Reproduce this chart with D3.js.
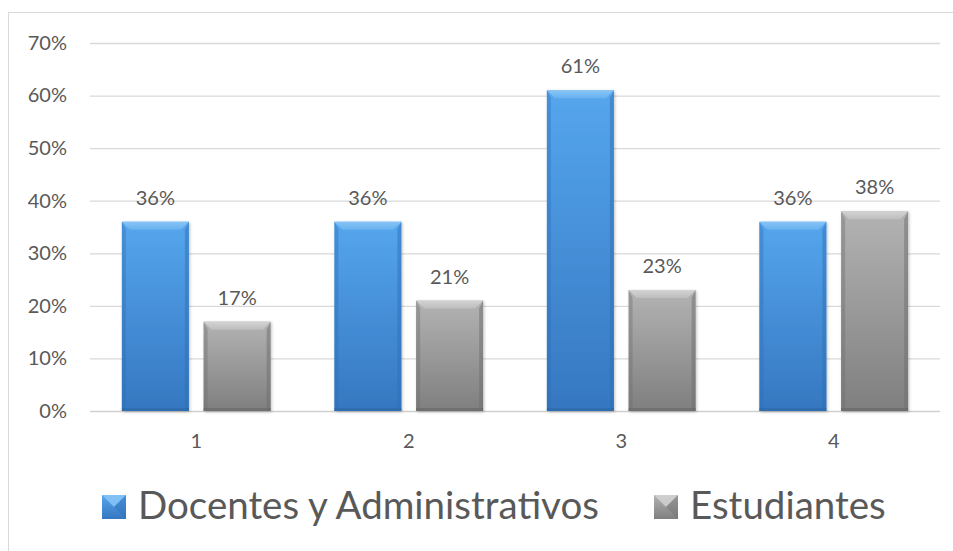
<!DOCTYPE html>
<html>
  <head>
    <meta charset="utf-8">
    <style>
    body { margin: 0px; overflow: hidden; background: #fff; }
    text { font-family: Lato, "Open Sans", sans-serif; fill: #595959; }
    </style>
    <script src="https://d3js.org/d3.v7.min.js"></script>
  </head>
  <body>
    <svg width="953" height="551"></svg>
    <script>
        // data
        const categories = ['1', '2', '3', '4'];
        const seriesNames = ['Docentes y Administrativos', 'Estudiantes'];
        const docentes = [36, 36, 61, 36];
        const estudiantes = [17, 21, 23, 38];
        const yTicks = [0, 10, 20, 30, 40, 50, 60, 70];

        const data = categories.map((c, i) => ({cat: c, values: [docentes[i], estudiantes[i]]}));

        const svg = d3.select('svg');

        // chart frame
        svg.append('rect')
            .attr('x', 8.5).attr('y', 12.5)
            .attr('width', 960).attr('height', 560)
            .attr('fill', 'white').attr('stroke', '#d9d9d9');

        const x0 = 90, x1 = 940, yTop = 43, yBot = 411;

        const xScale = d3.scaleBand()
            .domain(categories)
            .range([x0, x1])
            .paddingInner(0.3)
            .paddingOuter(0.15);

        const xSub = d3.scaleBand()
            .domain([0, 1])
            .range([0, xScale.bandwidth()])
            .paddingInner(0.18);

        const yScale = d3.scaleLinear()
            .domain([0, 70])
            .range([yBot, yTop]);

        // gradients
        const defs = svg.append('defs');
        const palettes = [
            {id: 'blue', top: '#55a6ee', bot: '#3577c0', bevel: '#8cc8f7', side: '#2f6fb5', bottomEdge: '#2a62a0'},
            {id: 'gray', top: '#b3b3b3', bot: '#7f7f7f', bevel: '#d6d6d6', side: '#6e6e6e', bottomEdge: '#5f5f5f'}
        ];
        palettes.forEach(p => {
            const g = defs.append('linearGradient').attr('id', 'grad-' + p.id)
                .attr('x1', 0).attr('y1', 0).attr('x2', 0).attr('y2', 1);
            g.append('stop').attr('offset', '0%').attr('stop-color', p.top);
            g.append('stop').attr('offset', '100%').attr('stop-color', p.bot);
            const b = defs.append('linearGradient').attr('id', 'bev-' + p.id)
                .attr('x1', 0).attr('y1', 0).attr('x2', 0).attr('y2', 1);
            b.append('stop').attr('offset', '0%').attr('stop-color', p.bevel).attr('stop-opacity', 0.9);
            b.append('stop').attr('offset', '100%').attr('stop-color', p.bevel).attr('stop-opacity', 0.35);
        });
        const shadow = defs.append('filter').attr('id', 'shadow')
            .attr('x', '-20%').attr('y', '-20%').attr('width', '140%').attr('height', '140%');
        shadow.append('feDropShadow').attr('dx', 1).attr('dy', 1).attr('stdDeviation', 1.5)
            .attr('flood-color', '#000').attr('flood-opacity', 0.25);

        // y axis gridlines + labels
        const yAxis = d3.axisLeft(yScale)
            .tickValues(yTicks)
            .tickSize(-(x1 - x0))
            .tickFormat(d => d + '%')
            .tickPadding(23);
        const yAxisG = svg.append('g')
            .attr('transform', `translate(${x0},0)`)
            .call(yAxis);
        yAxisG.select('.domain').remove();
        yAxisG.selectAll('.tick line').attr('stroke', '#d9d9d9').attr('stroke-width', 1.3);
        yAxisG.selectAll('.tick text')
            .style('font-family', 'Lato, sans-serif')
            .attr('font-size', 20).attr('fill', '#595959');
        yAxisG.select('.tick:first-of-type line').attr('stroke', '#d0d0d0').attr('stroke-width', 1.5);

        // x axis labels
        const xAxis = d3.axisBottom(xScale).tickSize(0).tickPadding(23);
        const xAxisG = svg.append('g')
            .attr('transform', `translate(0,${yBot})`)
            .call(xAxis);
        xAxisG.select('.domain').remove();
        xAxisG.selectAll('.tick text')
            .style('font-family', 'Lato, sans-serif')
            .attr('font-size', 20).attr('fill', '#595959');

        // bars
        const bev = 8;
        const groups = svg.selectAll('g.cat').data(data)
            .enter().append('g').attr('class', 'cat')
            .attr('transform', d => `translate(${xScale(d.cat)},0)`);

        const bars = groups.selectAll('g.bar')
            .data(d => d.values.map((v, i) => ({v: v, s: i})))
            .enter().append('g').attr('class', 'bar');

        bars.each(function(d) {
            const g = d3.select(this);
            const p = palettes[d.s];
            const bx = xSub(d.s), bw = xSub.bandwidth();
            const by = yScale(d.v);
            g.append('rect')
                .attr('x', bx).attr('y', by)
                .attr('width', bw).attr('height', yBot - by)
                .attr('fill', `url(#grad-${p.id})`)
                .attr('filter', 'url(#shadow)');
            // top bevel
            g.append('polygon')
                .attr('points', [[bx, by], [bx + bw, by], [bx + bw - bev, by + bev], [bx + bev, by + bev]].join(' '))
                .attr('fill', `url(#bev-${p.id})`);
            // side bevels
            g.append('polygon')
                .attr('points', [[bx, by], [bx + bev * 0.5, by + bev], [bx + bev * 0.5, yBot - 3], [bx, yBot]].join(' '))
                .attr('fill', p.side).attr('opacity', 0.4);
            g.append('polygon')
                .attr('points', [[bx + bw, by], [bx + bw - bev * 0.5, by + bev], [bx + bw - bev * 0.5, yBot - 3], [bx + bw, yBot]].join(' '))
                .attr('fill', p.side).attr('opacity', 0.5);
            g.append('rect')
                .attr('x', bx).attr('y', yBot - 3)
                .attr('width', bw).attr('height', 3)
                .attr('fill', p.bottomEdge).attr('opacity', 0.5);
            // value label
            g.append('text')
                .attr('x', bx + bw / 2)
                .attr('y', by - 17)
                .attr('text-anchor', 'middle')
                .attr('font-size', 20)
                .text(d.v + '%');
        });

        // legend
        const legend = svg.append('g');
        const legendItems = [
            {name: seriesNames[0], x: 102, p: palettes[0]},
            {name: seriesNames[1], x: 654, p: palettes[1]}
        ];
        legendItems.forEach(item => {
            const lg = legend.append('g');
            const sx = item.x, sy = 495, ss = 24;
            lg.append('rect').attr('x', sx).attr('y', sy).attr('width', ss).attr('height', ss)
                .attr('fill', `url(#grad-${item.p.id})`);
            lg.append('polygon')
                .attr('points', [[sx, sy], [sx + ss, sy], [sx + ss / 2, sy + ss / 2]].join(' '))
                .attr('fill', item.p.bevel).attr('opacity', 0.8);
            lg.append('polygon')
                .attr('points', [[sx + ss, sy], [sx + ss, sy + ss], [sx + ss / 2, sy + ss / 2]].join(' '))
                .attr('fill', item.p.side).attr('opacity', 0.4);
            lg.append('text')
                .attr('x', sx + ss + 12)
                .attr('y', sy + ss)
                .attr('font-size', 38.5)
                .text(item.name);
        });
    </script>
  </body>
</html>
